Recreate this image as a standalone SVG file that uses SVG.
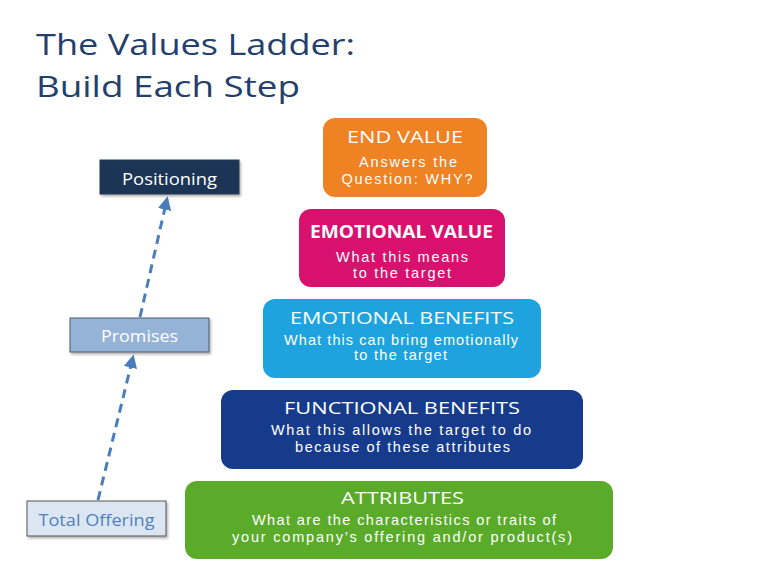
<svg xmlns="http://www.w3.org/2000/svg" width="767" height="575" viewBox="0 0 767 575">
<defs>
<style>
.title{font-family:"Open Sans","Liberation Sans",sans-serif;font-size:30px;fill:#23406c}
.bt{font-family:"Open Sans","Liberation Sans",sans-serif;font-size:17px;fill:#fff;text-anchor:middle}
.bs{font-family:"Liberation Sans",Arial,sans-serif;font-size:14.5px;fill:#fff;text-anchor:middle}
.lbl{font-family:"Open Sans","Liberation Sans",sans-serif;font-size:17px;text-anchor:middle}
.conn{stroke:#4a7ebb;stroke-width:3;stroke-dasharray:9 6;fill:none}
</style>
<marker id="ah" viewBox="0 0 10 10" refX="8" refY="5" markerWidth="4.5" markerHeight="4.5" orient="auto" markerUnits="strokeWidth">
<path d="M0,0 L10,5 L0,10 z" fill="#4a7ebb"/>
</marker>
<filter id="sh" x="-10%" y="-10%" width="130%" height="140%">
<feDropShadow dx="1.5" dy="2" stdDeviation="1.2" flood-color="#000" flood-opacity="0.3"/>
</filter>
</defs>
<rect width="767" height="575" fill="#fff"/>
<text class="title" x="36" y="55" textLength="319" lengthAdjust="spacingAndGlyphs">The Values Ladder:</text>
<text class="title" x="36" y="97" textLength="264" lengthAdjust="spacingAndGlyphs">Build Each Step</text>

<g id="connectors">
<line class="conn" x1="98" y1="500" x2="133" y2="357" marker-end="url(#ah)"/>
<line class="conn" x1="140" y1="317" x2="167" y2="199" marker-end="url(#ah)"/>
</g>

<g id="positioning">
<rect x="100" y="160" width="139" height="34" fill="#1f3556" stroke="#2b3a4c" stroke-width="1" filter="url(#sh)"/>
<text class="lbl" x="169.5" y="185" fill="#fff" textLength="95" lengthAdjust="spacingAndGlyphs">Positioning</text>
</g>
<g id="promises">
<rect x="70" y="318" width="139" height="34" fill="#95b3d7" stroke="#4b5a6a" stroke-width="1" filter="url(#sh)"/>
<text class="lbl" x="139.5" y="342" fill="#fff" textLength="77" lengthAdjust="spacingAndGlyphs">Promises</text>
</g>
<g id="total-offering">
<rect x="27" y="501" width="139" height="35" fill="#dce6f2" stroke="#555" stroke-width="1" filter="url(#sh)"/>
<text class="lbl" x="96.5" y="526" fill="#4f81bd" textLength="116" lengthAdjust="spacingAndGlyphs">Total Offering</text>
</g>

<g id="end-value">
<rect x="323" y="118" width="164" height="79" rx="12" fill="#ef8223"/>
<text class="bt" x="405" y="143" textLength="116" lengthAdjust="spacingAndGlyphs">END VALUE</text>
<text class="bs" x="408" y="167" textLength="98" lengthAdjust="spacing">Answers the</text>
<text class="bs" x="407" y="184" textLength="131" lengthAdjust="spacing">Question:  WHY?</text>
</g>
<g id="emotional-value">
<rect x="299" y="209" width="206" height="78" rx="12" fill="#d9116e"/>
<text class="bt" x="401.5" y="238" font-weight="bold" textLength="183" lengthAdjust="spacingAndGlyphs">EMOTIONAL VALUE</text>
<text class="bs" x="402" y="262" textLength="132" lengthAdjust="spacing">What this means</text>
<text class="bs" x="402" y="278" textLength="98" lengthAdjust="spacing">to the target</text>
</g>
<g id="emotional-benefits">
<rect x="263" y="299" width="278" height="79" rx="12" fill="#1ea3df"/>
<text class="bt" x="402" y="324" textLength="224" lengthAdjust="spacingAndGlyphs">EMOTIONAL BENEFITS</text>
<text class="bs" x="401" y="345" textLength="234" lengthAdjust="spacing">What this can bring emotionally</text>
<text class="bs" x="400.5" y="360" textLength="93" lengthAdjust="spacing">to the target</text>
</g>
<g id="functional-benefits">
<rect x="221" y="390" width="362" height="79" rx="12" fill="#173b8b"/>
<text class="bt" x="402" y="414" textLength="236" lengthAdjust="spacingAndGlyphs">FUNCTIONAL BENEFITS</text>
<text class="bs" x="401" y="435" textLength="260" lengthAdjust="spacing">What this allows the target to do</text>
<text class="bs" x="402.5" y="452" textLength="215" lengthAdjust="spacing">because of these attributes</text>
</g>
<g id="attributes">
<rect x="185" y="481" width="428" height="78" rx="12" fill="#5aab2a"/>
<text class="bt" x="402.5" y="504" textLength="123" lengthAdjust="spacingAndGlyphs">ATTRIBUTES</text>
<text class="bs" x="404" y="525" textLength="304" lengthAdjust="spacing">What are the characteristics or traits of</text>
<text class="bs" x="402" y="542" textLength="340" lengthAdjust="spacing">your company’s offering and/or product(s)</text>
</g>
</svg>
